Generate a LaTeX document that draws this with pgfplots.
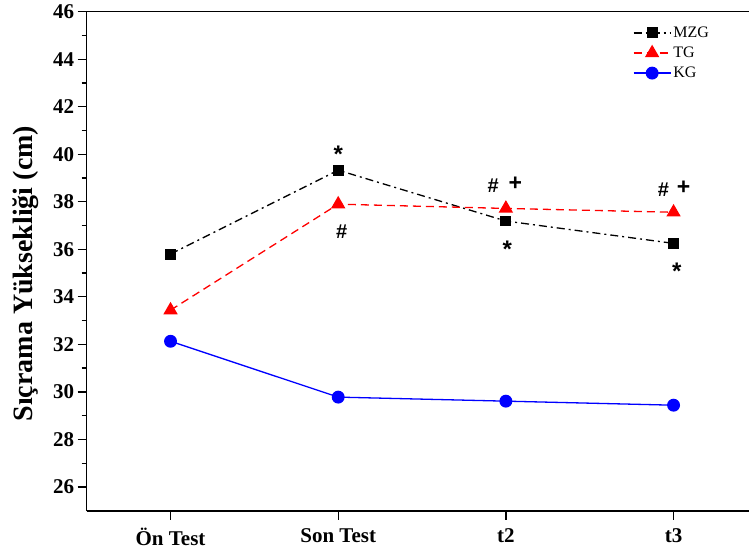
\documentclass[border=0pt]{standalone}
\usepackage{fontspec}
\setmainfont{Liberation Serif}
\newfontfamily\arial{Liberation Sans}
\usepackage{pgfplots}
\pgfplotsset{compat=1.18}

\begin{document}
\begin{tikzpicture}
  \begin{axis}[
      scale only axis,
      width=662.3pt,
      height=499pt,
      xmin=-0.5, xmax=3.45,
      ymin=25, ymax=46,
      axis x line=box,
      axis y line=left,
      x axis line style={-},
      y axis line style={-},
      xtick pos=left,
      ytick pos=left,
      tick align=outside,
      xtick={0,1,2,3},
      xticklabels={Ön Test,Son Test,t2,t3},
      ytick={26,28,...,46},
      minor ytick={27,29,...,45},
      major tick length=9pt,
      minor tick length=5pt,
      every tick/.style={black,line width=1.3pt},
      tick label style={font=\bfseries\fontsize{21}{24}\selectfont},
      xticklabel style={yshift=-5pt},
      /pgf/number format/assume math mode=true,
      ylabel={Sıçrama Yüksekliği (cm)},
      ylabel style={font=\bfseries\fontsize{28}{30}\selectfont,
        at={(axis description cs:-0.092,0.475)}, anchor=center},
      legend style={draw=none, fill=none,
        at={(axis description cs:0.82,0.978)}, anchor=north west,
        font=\fontsize{16}{18}\selectfont, row sep=4pt},
      legend cell align=left,
      legend image code/.code={%
        \draw[mark repeat=2,mark phase=2]
          plot coordinates {(0cm,0cm) (0.65cm,0cm) (1.3cm,0cm)};},
    ]
    \coordinate (bl) at (rel axis cs:0,0);
    \coordinate (tr) at (rel axis cs:1,1);

    \addplot[black, line width=1.3pt, dash pattern=on 8pt off 4pt on 2pt off 4pt,
      mark=square*, mark size=4.8pt, mark options={solid}] coordinates {
      (0,35.8) (1,39.33) (2,37.19) (3,36.25)
    };
    \addlegendentry{MZG}

    \addplot[red, line width=1.3pt, dash pattern=on 8pt off 5pt,
      mark=triangle*, mark size=7pt, mark options={solid}] coordinates {
      (0,33.44) (1,37.9) (2,37.72) (3,37.56)
    };
    \addlegendentry{TG}

    \addplot[blue, line width=1.3pt,
      mark=*, mark size=5.8pt] coordinates {
      (0,32.13) (1,29.78) (2,29.61) (3,29.44)
    };
    \addlegendentry{KG}

    % significance marks
    \node[anchor=base, font=\arial\bfseries\fontsize{24}{24}\selectfont] at (axis cs:1.0,39.65) {*};
    \node[anchor=base, font=\arial\bfseries\fontsize{20}{20}\selectfont] at (axis cs:1.02,36.47) {\#};
    \node[anchor=base, font=\arial\bfseries\fontsize{20}{20}\selectfont] at (axis cs:1.925,38.4) {\#};
    \node[anchor=base, font=\arial\bfseries\fontsize{23}{23}\selectfont] at (axis cs:2.056,38.49) {+};
    \node[anchor=base, font=\arial\bfseries\fontsize{24}{24}\selectfont] at (axis cs:2.008,35.67) {*};
    \node[anchor=base, font=\arial\bfseries\fontsize{20}{20}\selectfont] at (axis cs:2.94,38.23) {\#};
    \node[anchor=base, font=\arial\bfseries\fontsize{23}{23}\selectfont] at (axis cs:3.06,38.32) {+};
    \node[anchor=base, font=\arial\bfseries\fontsize{24}{24}\selectfont] at (axis cs:3.02,34.72) {*};
  \end{axis}
  % heavier frame: left, bottom and top edges (right edge falls outside the crop)
  \draw[line width=1.5pt] (bl|-tr) -- (bl) -- (tr|-bl);
  \draw[line width=1.5pt] (bl|-tr) -- (tr);
  \pgfresetboundingbox
  \path[use as bounding box] ([xshift=-86.7pt,yshift=-40.3pt]bl) rectangle ([yshift=11.7pt]tr);
\end{tikzpicture}
\end{document}
